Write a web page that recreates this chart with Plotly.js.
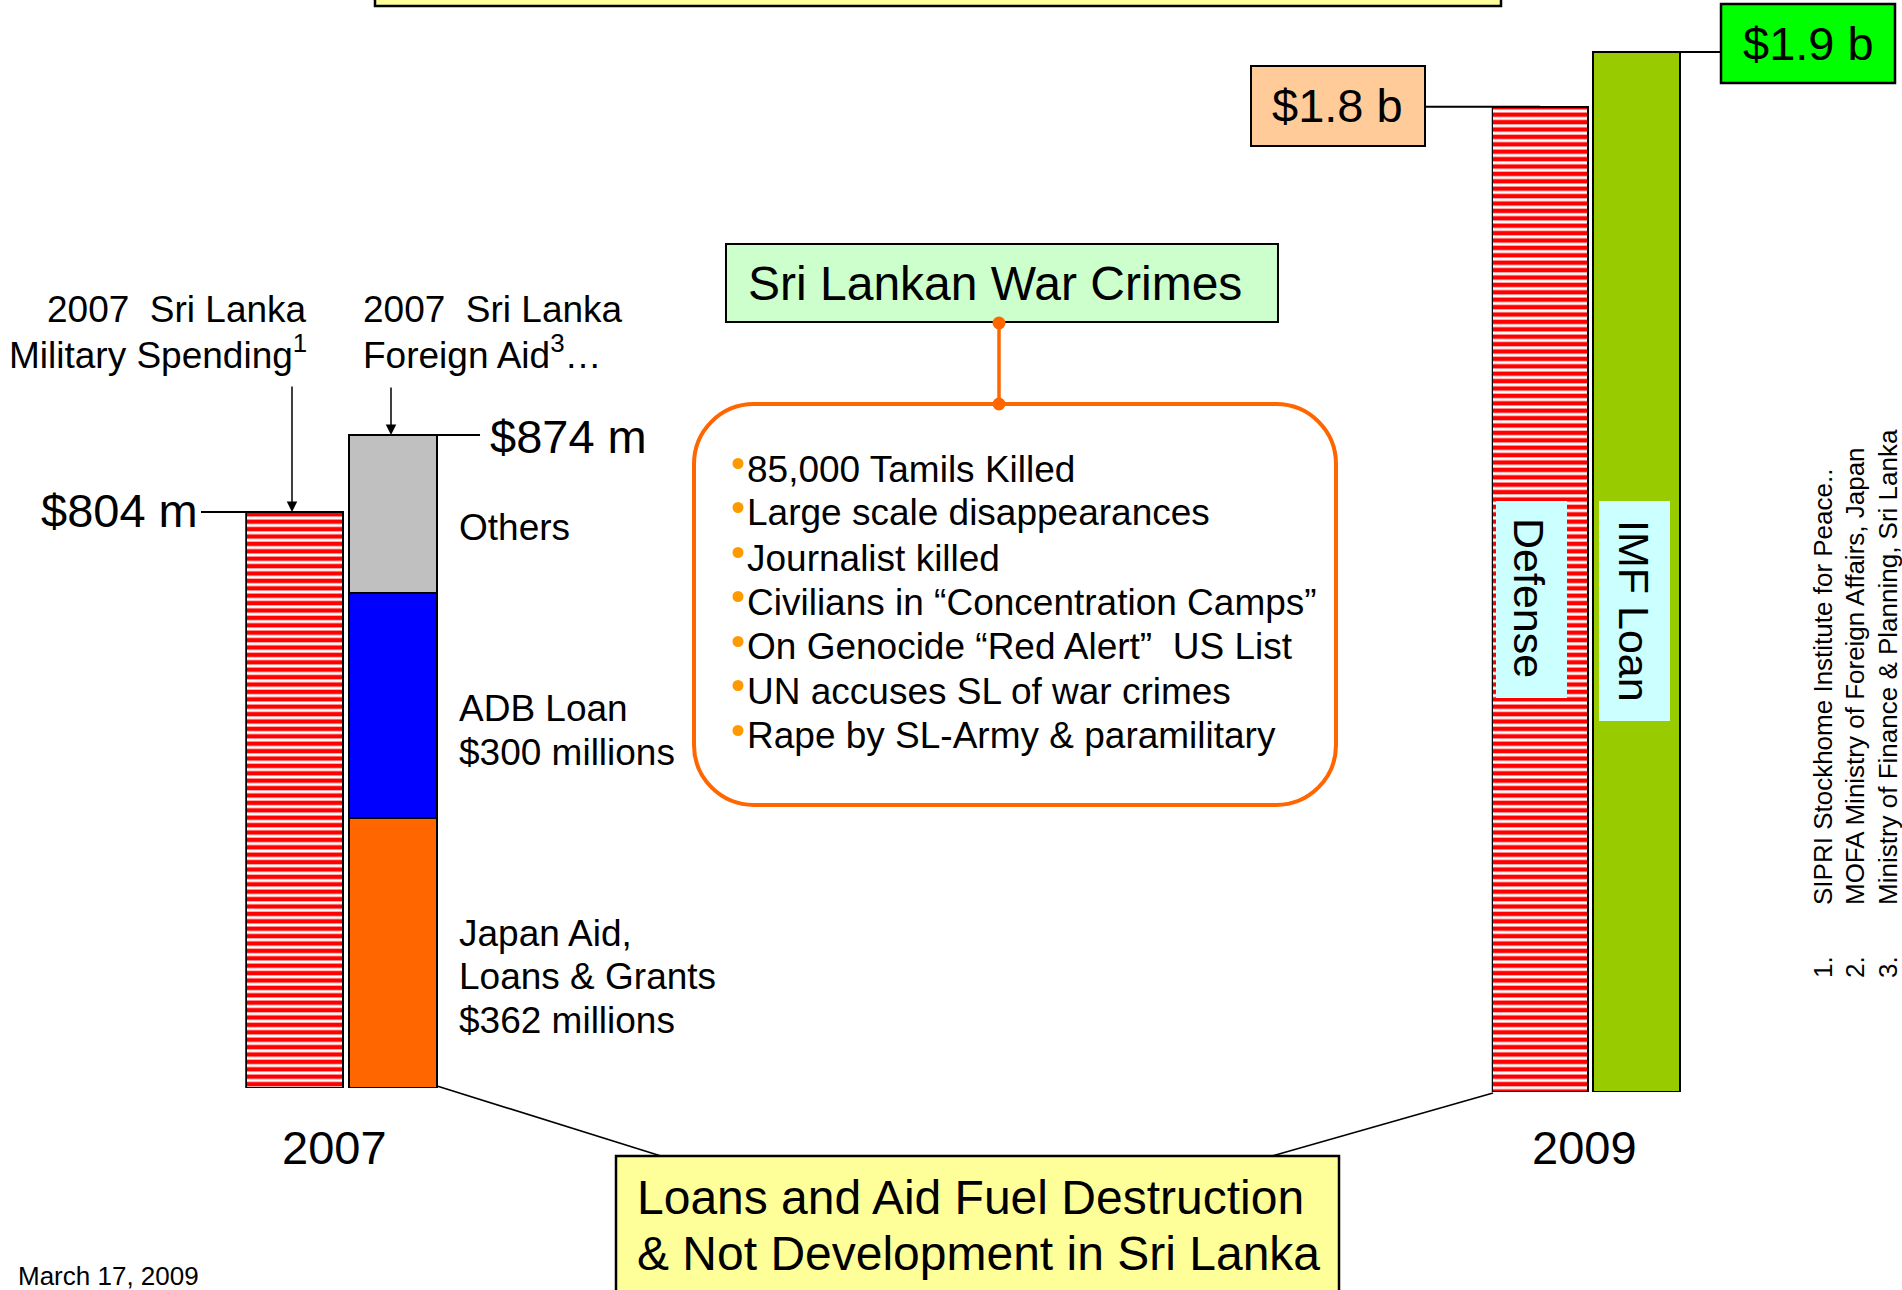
<!DOCTYPE html>
<html><head><meta charset="utf-8">
<script src="https://cdn.plot.ly/plotly-3.0.1.min.js"></script>
<style>html,body{margin:0;padding:0;background:#fff;}#chart{width:1902px;height:1290px;}</style>
</head><body><div id="chart"></div>
<script>
// ---------- data ----------
const yearLabels = ['2007', '2009'];
const bars2007 = ['Military Spending', 'Foreign Aid'];
const military2007 = [804];
const aidSegments = ['Japan Aid, Loans & Grants', 'ADB Loan', 'Others'];
const aidValues2007 = [362, 300, 212];
const bars2009 = ['Defense', 'IMF Loan'];
const values2009 = [1800, 1900];
const crimes = [
  '85,000 Tamils Killed',
  'Large scale disappearances',
  'Journalist killed',
  'Civilians in \u201cConcentration Camps\u201d',
  'On Genocide \u201cRed Alert\u201d\u00a0 US List',
  'UN accuses SL of war crimes',
  'Rape by SL-Army & paramilitary'
];
const sources = [
  'SIPRI Stockhome Institute for Peace..',
  'MOFA Ministry of Foreign Affairs, Japan',
  'Ministry of Finance & Planning, Sri Lanka'
];

// ---------- helpers ----------
const W = 1902, H = 1290;
const X = px => +(px / W).toFixed(5);
const Y = py => +(1 - py / H).toFixed(5);
const FONT = 'Liberation Sans, Arial, sans-serif';
const aidTotal = aidValues2007.reduce((a, b) => a + b, 0);
const fmtB = v => '$' + (v / 1000).toFixed(1) + ' b';

const stripe = {shape: '-', fgcolor: '#FF0000', bgcolor: '#FFFFFF', size: 7.4, solidity: 0.6};
const outline = {color: '#000000', width: 2};
const aidColors = ['#FF6600', '#0000FF', '#C0C0C0'];

const traces = [];
traces.push({type: 'bar', name: bars2007[0], x: [bars2007[0]], y: military2007, xaxis: 'x', yaxis: 'y3',
  width: 0.985, marker: {color: '#FFFFFF', pattern: stripe, line: outline}});
aidSegments.forEach((s, i) => traces.push({type: 'bar', name: s, x: [bars2007[1]], y: [aidValues2007[i]],
  xaxis: 'x', yaxis: 'y', width: 0.893, marker: {color: aidColors[i], line: outline}}));
traces.push({type: 'bar', name: bars2009[0], x: [bars2009[0]], y: [values2009[0]], xaxis: 'x2', yaxis: 'y2',
  width: 0.99, marker: {color: '#FFFFFF', pattern: stripe, line: outline}});
traces.push({type: 'bar', name: bars2009[1], x: [bars2009[1]], y: [values2009[1]], xaxis: 'x2', yaxis: 'y2',
  width: 0.9, marker: {color: '#99CC00', line: outline}});

function rect(x0, y0, x1, y1, fill, lw, lc) {
  return {type: 'rect', xref: 'paper', yref: 'paper', x0: X(x0), x1: X(x1), y0: Y(y0), y1: Y(y1),
    fillcolor: fill, line: {color: lc || '#000000', width: lw}};
}
function pline(x0, y0, x1, y1, color, w) {
  return {type: 'line', xref: 'paper', yref: 'paper', x0: X(x0), x1: X(x1), y0: Y(y0), y1: Y(y1),
    line: {color: color, width: w}};
}
function hline(x0, x1, yv, yref) {
  return {type: 'line', xref: 'paper', yref: yref, x0: X(x0), x1: X(x1), y0: yv, y1: yv,
    line: {color: '#000000', width: 2}};
}
function dot(cx, cy, r, color) {
  return {type: 'circle', xref: 'paper', yref: 'paper', x0: X(cx - r), x1: X(cx + r), y0: Y(cy - r), y1: Y(cy + r),
    fillcolor: color, line: {width: 0}};
}
function rr(x0, y0, x1, y1, r) {
  const k = 0.5523 * r;
  const P = (x, y) => X(x) + ',' + Y(y);
  return `M${P(x0 + r, y0)} L${P(x1 - r, y0)} C${P(x1 - r + k, y0)} ${P(x1, y0 + r - k)} ${P(x1, y0 + r)} ` +
    `L${P(x1, y1 - r)} C${P(x1, y1 - r + k)} ${P(x1 - r + k, y1)} ${P(x1 - r, y1)} ` +
    `L${P(x0 + r, y1)} C${P(x0 + r - k, y1)} ${P(x0, y1 - r + k)} ${P(x0, y1 - r)} ` +
    `L${P(x0, y0 + r)} C${P(x0, y0 + r - k)} ${P(x0 + r - k, y0)} ${P(x0 + r, y0)} Z`;
}

const crimeY = [469, 513, 558, 602, 647, 691, 736];

const shapes = [
  rect(375, -20, 1501, 6, '#FFFF99', 2.5),
  rect(616, 1156, 1339, 1320, '#FFFF99', 2.5),
  rect(1251, 66, 1425, 146, '#FFCC99', 2),
  rect(1721, 4, 1895, 83, '#00FF00', 2.5),
  rect(726, 244, 1278, 322, '#CCFFCC', 2),
  {type: 'path', xref: 'paper', yref: 'paper', path: rr(694, 404, 1336, 805, 60), line: {color: '#FF6600', width: 4}},
  pline(999, 323, 999, 404, '#FF6600', 3.5),
  dot(999, 323, 6.5, '#FF6600'),
  dot(999, 404, 6.5, '#FF6600'),
  rect(1496, 501, 1567, 698, '#CCFFFF', 0, 'rgba(0,0,0,0)'),
  rect(1599, 501, 1670, 721, '#CCFFFF', 0, 'rgba(0,0,0,0)'),
  hline(201, 270, military2007[0], 'y3'),
  hline(384, 480, aidTotal, 'y'),
  hline(1425, 1540, values2009[0], 'y2'),
  hline(1681, 1721, values2009[1], 'y2'),
  pline(437, 1086, 661, 1156, '#000000', 1.6),
  pline(1493, 1093, 1272, 1156, '#000000', 1.6)
];
crimeY.forEach(cy => shapes.push(dot(738, cy - 5.5, 5.5, '#FF9900')));

function txt(text, x, y, size, opts) {
  return Object.assign({text: text, x: X(x), y: Y(y), xref: 'paper', yref: 'paper', showarrow: false,
    xanchor: 'center', yanchor: 'middle', font: {family: FONT, size: size, color: '#000000'}, borderpad: 0}, opts || {});
}

const ann = [];
// headers
ann.push(txt(yearLabels[0] + '\u00a0 Sri Lanka', 308, 310, 37, {xanchor: 'right'}));
ann.push(txt(bars2007[0] + '<sup>1</sup>', 308, 353, 37, {xanchor: 'right'}));
ann.push(txt(yearLabels[0] + '\u00a0 Sri Lanka', 362, 310, 37, {xanchor: 'left'}));
ann.push(txt(bars2007[1] + '<sup>3</sup>\u2026', 362, 353, 37, {xanchor: 'left'}));
// arrows
ann.push({text: '', x: X(292), y: military2007[0], xref: 'paper', yref: 'y3', showarrow: true, ax: 0, ay: -127,
  arrowhead: 2, arrowsize: 1.4, arrowwidth: 1.5, arrowcolor: '#000000'});
ann.push({text: '', x: X(391), y: aidTotal, xref: 'paper', yref: 'y', showarrow: true, ax: 0, ay: -49,
  arrowhead: 2, arrowsize: 1.4, arrowwidth: 1.5, arrowcolor: '#000000'});
// value labels
ann.push(Object.assign(txt('$' + military2007[0] + ' m', 199, 0, 47, {xanchor: 'right', yshift: 2}), {y: military2007[0], yref: 'y3'}));
ann.push(Object.assign(txt('$' + aidTotal + ' m', 489, 0, 47, {xanchor: 'left', yshift: -2}), {y: aidTotal, yref: 'y'}));
ann.push(Object.assign(txt(fmtB(values2009[0]), 1338, 0, 47, {yshift: 1}), {y: values2009[0], yref: 'y2'}));
ann.push(Object.assign(txt(fmtB(values2009[1]), 1808, 0, 47, {yshift: 8.5}), {y: values2009[1], yref: 'y2'}));
// segment labels
ann.push(txt(aidSegments[2], 458, 528, 37, {xanchor: 'left'}));
ann.push(txt(aidSegments[1], 458, 708, 37, {xanchor: 'left'}));
ann.push(txt('$' + aidValues2007[1] + ' millions', 458, 753, 37, {xanchor: 'left'}));
ann.push(txt('Japan Aid,', 458, 933, 37, {xanchor: 'left'}));
ann.push(txt('Loans & Grants', 458, 977, 37, {xanchor: 'left'}));
ann.push(txt('$' + aidValues2007[0] + ' millions', 458, 1021, 37, {xanchor: 'left'}));
// years
ann.push(txt(yearLabels[0], 335, 1147, 47));
ann.push(txt(yearLabels[1], 1584, 1147, 47));
// war crimes
ann.push(txt('Sri Lankan War Crimes', 995, 283, 48));
crimes.forEach((c, i) => ann.push(txt(c, 746, crimeY[i], 37, {xanchor: 'left'})));
// bar labels
ann.push(txt(bars2009[0], 1529, 598, 43, {textangle: 90}));
ann.push(txt(bars2009[1], 1634, 611, 43, {textangle: 90}));
// bottom box text
ann.push(txt('Loans and Aid Fuel Destruction', 636, 1198, 48, {xanchor: 'left'}));
ann.push(txt('& Not Development in Sri Lanka', 636, 1253, 48, {xanchor: 'left'}));
// date
ann.push(txt('March 17, 2009', 17, 1276, 26, {xanchor: 'left'}));
// sources
const srcX = [1823, 1855, 1888];
sources.forEach((s, i) => {
  ann.push(txt(s, srcX[i], 906, 26, {textangle: -90, yanchor: 'bottom'}));
  ann.push(txt((i + 1) + '.', srcX[i], 967, 26, {textangle: -90}));
});

const hidden = {visible: false, showgrid: false, zeroline: false, fixedrange: true};
const layout = {
  width: W, height: H, autosize: false,
  margin: {l: 0, r: 0, t: 0, b: 0, pad: 0},
  paper_bgcolor: '#FFFFFF', plot_bgcolor: 'rgba(0,0,0,0)',
  showlegend: false, barmode: 'stack', bargap: 0.05,
  font: {family: FONT, color: '#000000'},
  xaxis: Object.assign({}, hidden, {type: 'category', categoryorder: 'array', categoryarray: bars2007,
    range: [-0.5, 1.5], domain: [X(245.25), X(442.25)], anchor: 'y'}),
  yaxis: Object.assign({}, hidden, {range: [0, 1456.2], domain: [202 / H, 1], anchor: 'x'}),
  yaxis3: Object.assign({}, hidden, {range: [0, 1518.7], overlaying: 'y', anchor: 'x'}),
  xaxis2: Object.assign({}, hidden, {type: 'category', categoryorder: 'array', categoryarray: bars2009,
    range: [-0.5, 1.5], domain: [X(1491.75), X(1685.25)], anchor: 'y2'}),
  yaxis2: Object.assign({}, hidden, {range: [0, 1995], domain: [198 / H, 1], anchor: 'x2'}),
  shapes: shapes,
  annotations: ann
};
Plotly.newPlot('chart', traces, layout, {staticPlot: true, displayModeBar: false});
</script>
</body></html>
